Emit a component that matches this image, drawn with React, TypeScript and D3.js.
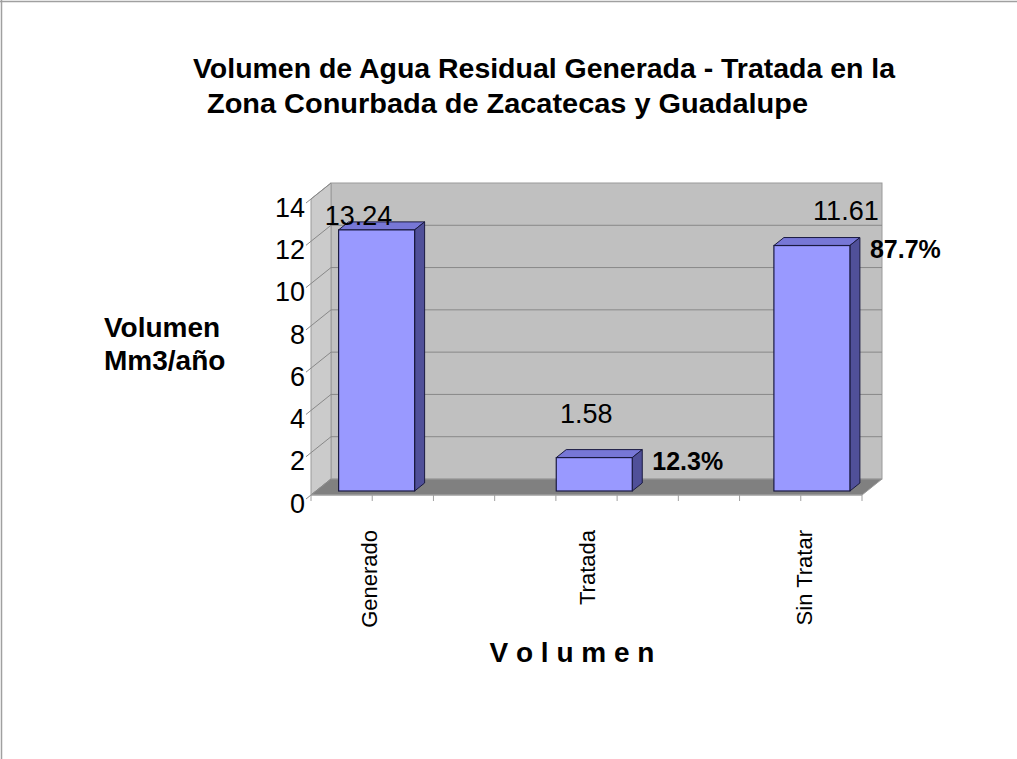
import React, { useEffect, useRef } from 'react'
import * as d3 from 'd3'

const categorias = ['Generado', 'Tratada', 'Sin Tratar']
// valores rotulados sobre cada barra (Mm3/año)
const volumen = [13.24, 1.58, 11.61]
// altura a la que está dibujada cada barra (la primera queda más baja que su rótulo)
const alturaBarra = [12.35, 1.58, 11.61]
const porcentajes = [null, 12.3, 87.7]
const ticksY = [0, 2, 4, 6, 8, 10, 12, 14]
const titulo = ['Volumen de Agua Residual Generada - Tratada en la', 'Zona Conurbada de Zacatecas y Guadalupe']
const tituloEjeY = ['Volumen', 'Mm3/año']
const tituloEjeX = 'V o l u m e n'

const W = 1017
const H = 759
const FONT = '"Liberation Sans", Arial, sans-serif'

// plano frontal del área de trazado y profundidad del efecto 3D
const x0 = 311
const x1 = 862
const yTop = 199
const yBot = 495
const DX = 20
const DY = -16
const ANCHO_BARRA = 76
// desplazamiento de los rótulos de valor respecto a la cara superior de la barra
const rotuloDesplaz = [[-18, -15], [-8, -44], [34, -35]]

export default function App() {
    const ref = useRef<SVGSVGElement>(null)

    useEffect(() => {
        const svg = d3.select(ref.current)
        svg.selectAll('*').remove()

        const y = d3.scaleLinear().domain([0, 14]).range([yBot, yTop])
        const xBar = d3.scalePoint<string>()
            .domain(categorias)
            .range([x0 + 0.11 * (x1 - x0), x0 + 0.9 * (x1 - x0)])
        const xTick = d3.scaleLinear().domain([0, 9]).range([x0, x1])

        // borde de la página
        svg.append('line').attr('x1', 0).attr('x2', W).attr('y1', 1.5).attr('y2', 1.5)
            .attr('stroke', '#a0a0a0').attr('stroke-width', 1.5)
        svg.append('line').attr('x1', 1.5).attr('x2', 1.5).attr('y1', 0).attr('y2', H)
            .attr('stroke', '#a0a0a0').attr('stroke-width', 1.5)

        const pts = (p: number[][]) => p.map(d => d.join(',')).join(' ')

        // pared del fondo
        svg.append('rect')
            .attr('x', x0 + DX).attr('y', yTop + DY)
            .attr('width', x1 - x0).attr('height', yBot - yTop)
            .attr('fill', '#c0c0c0').attr('stroke', '#9a9a9a')
        // pared lateral
        svg.append('polygon')
            .attr('points', pts([[x0, yTop], [x0 + DX, yTop + DY], [x0 + DX, yBot + DY], [x0, yBot]]))
            .attr('fill', '#cbcbcb').attr('stroke', '#9a9a9a')
        // piso
        svg.append('polygon')
            .attr('points', pts([[x0, yBot], [x0 + DX, yBot + DY], [x1 + DX, yBot + DY], [x1, yBot]]))
            .attr('fill', '#808080').attr('stroke', '#9a9a9a')

        // líneas de división
        const grid = svg.append('g').attr('stroke', '#888').attr('stroke-width', 1)
        ticksY.filter(v => v > 0 && v < 14).forEach(v => {
            grid.append('line')
                .attr('x1', x0 + DX).attr('x2', x1 + DX)
                .attr('y1', y(v) + DY).attr('y2', y(v) + DY)
        })
        ticksY.forEach(v => {
            grid.append('line')
                .attr('x1', x0 - 5).attr('x2', x0 + DX)
                .attr('y1', y(v) + 4).attr('y2', y(v) + DY)
        })

        // eje x y marcas
        const ejeX = svg.append('g').attr('stroke', '#a0a0a0')
        ejeX.append('line').attr('x1', x0).attr('x2', x1).attr('y1', yBot).attr('y2', yBot)
        d3.range(10).forEach(i => {
            ejeX.append('line')
                .attr('x1', xTick(i)).attr('x2', xTick(i))
                .attr('y1', yBot).attr('y2', yBot + 6)
        })

        // rótulos del eje y
        svg.append('g').selectAll('text').data(ticksY).enter().append('text')
            .attr('x', 305).attr('y', d => y(d) + 8)
            .attr('dy', '0.36em')
            .attr('text-anchor', 'end')
            .attr('font-family', FONT).attr('font-size', 27)
            .text(d => d)

        // barras 3D
        const bx = DX * 0.25
        const by = DY * 0.25
        const ddx = DX * 0.5
        const ddy = DY * 0.5
        const barras = svg.append('g')
        categorias.forEach((c, i) => {
            const cx = (xBar(c) as number) + bx
            const left = cx - ANCHO_BARRA / 2
            const right = cx + ANCHO_BARRA / 2
            const top = y(alturaBarra[i]) + by
            const base = yBot + by
            barras.append('polygon')
                .attr('points', pts([[left, top], [left + ddx, top + ddy], [right + ddx, top + ddy], [right, top]]))
                .attr('fill', '#7777d6').attr('stroke', '#1a1a40').attr('stroke-width', 1)
            barras.append('polygon')
                .attr('points', pts([[right, top], [right + ddx, top + ddy], [right + ddx, base + ddy], [right, base]]))
                .attr('fill', '#505099').attr('stroke', '#1a1a40').attr('stroke-width', 1)
            barras.append('rect')
                .attr('x', left).attr('y', top)
                .attr('width', ANCHO_BARRA).attr('height', base - top)
                .attr('fill', '#9999ff').attr('stroke', '#1a1a40').attr('stroke-width', 1.2)

            barras.append('text')
                .attr('x', cx + rotuloDesplaz[i][0]).attr('y', top + rotuloDesplaz[i][1])
                .attr('dy', '0.36em').attr('text-anchor', 'middle')
                .attr('font-family', FONT).attr('font-size', 27)
                .text(volumen[i].toFixed(2))

            const p = porcentajes[i]
            if (p != null) {
                barras.append('text')
                    .attr('x', right + 20).attr('y', top + 3)
                    .attr('dy', '0.36em')
                    .attr('font-family', FONT).attr('font-size', 25).attr('font-weight', 'bold')
                    .text(p.toFixed(1) + '%')
            }

            // rótulo de categoría
            svg.append('text')
                .attr('transform', `translate(${cx - 7},530) rotate(-90)`)
                .attr('text-anchor', 'end')
                .attr('dominant-baseline', 'central')
                .attr('font-family', FONT).attr('font-size', 22)
                .text(c)
        })

        // títulos
        const tx = [193, 207]
        const tw = [702, 601]
        titulo.forEach((t, i) => {
            svg.append('text')
                .attr('x', tx[i]).attr('y', 78 + i * 35)
                .attr('font-family', FONT).attr('font-size', 28).attr('font-weight', 'bold')
                .attr('textLength', tw[i]).attr('lengthAdjust', 'spacingAndGlyphs')
                .text(t)
        })
        tituloEjeY.forEach((t, i) => {
            svg.append('text')
                .attr('x', 104).attr('y', 337 + i * 33)
                .attr('font-family', FONT).attr('font-size', 28).attr('font-weight', 'bold')
                .text(t)
        })
        svg.append('text')
            .attr('x', 572).attr('y', 662)
            .attr('text-anchor', 'middle')
            .attr('font-family', FONT).attr('font-size', 28).attr('font-weight', 'bold')
            .text(tituloEjeX)
    }, [])

    return (
        <svg ref={ref} width={W} height={H}
            style={{ position: 'absolute', left: 0, top: 0, background: '#fff' }} />
    )
}
